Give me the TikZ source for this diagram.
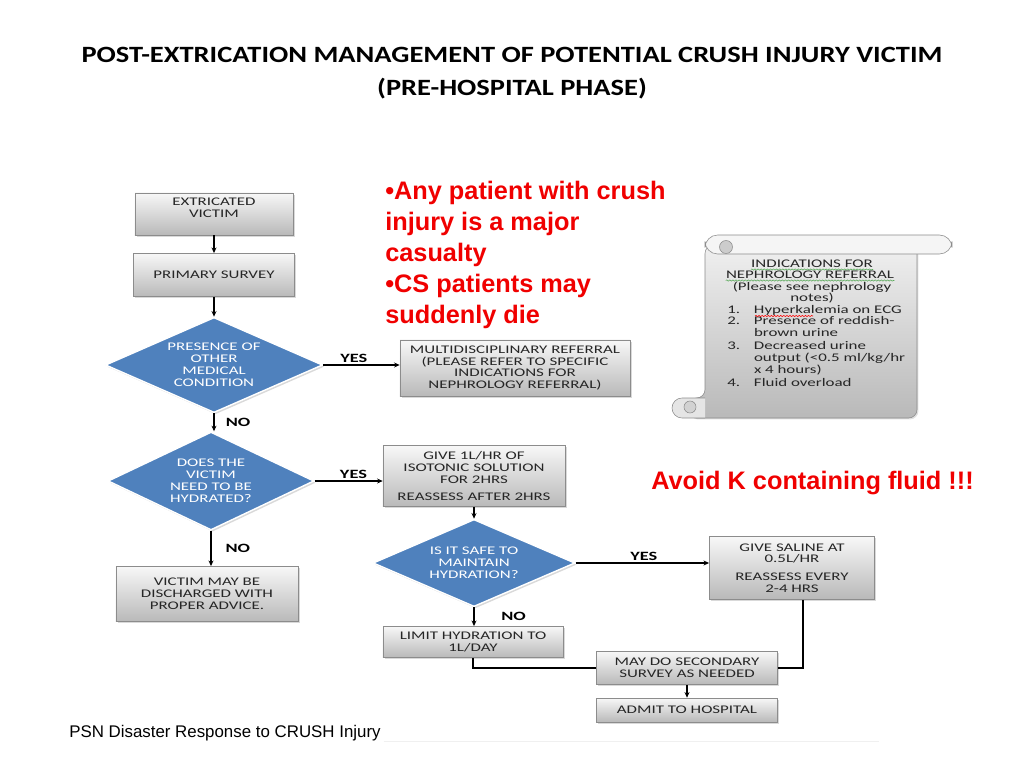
\documentclass[tikz,border=0pt]{standalone}
\usepackage{fontspec}
\setmainfont{Carlito}
\newfontfamily\boxfont{Carlito}[FakeStretch=1.45]
\newfontfamily\titlefont{Carlito}[FakeStretch=1.22]
\newfontfamily\arialfont{Liberation Sans}
\usepackage{xcolor}
\usepackage{tikz}
\usetikzlibrary{positioning,arrows.meta,shapes.geometric,calc,shadows,decorations.pathmorphing}

\definecolor{diamblue}{RGB}{79,129,189}
\definecolor{boxedge}{RGB}{140,140,140}
\definecolor{notered}{RGB}{240,0,0}
\definecolor{spellgreen}{RGB}{90,170,90}

\begin{document}
\begin{tikzpicture}[
  x=0.025cm, y=-0.025cm,
  box/.style={rectangle, draw=boxedge, top color=gray!6, bottom color=gray!55,
              align=center, text=black!85, inner sep=1pt,
              font=\boxfont\fontsize{8.3}{8.5}\selectfont,
              drop shadow={opacity=0.3, shadow xshift=1.2pt, shadow yshift=-1.2pt}},
  decision/.style={diamond, draw=white, line width=1pt, fill=diamblue, text=white,
              align=center, inner sep=0pt,
              font=\boxfont\fontsize{8.3}{8.5}\selectfont,
              drop shadow={opacity=0.3, shadow xshift=1.2pt, shadow yshift=-1.2pt}},
  arrow/.style={-{Stealth[length=4pt, width=3.5pt]}, line width=0.8pt},
  link/.style={line width=0.8pt},
  answer/.style={font=\boxfont\bfseries\fontsize{9}{10}\selectfont, inner sep=1pt},
  note/.style={font=\arialfont\bfseries\fontsize{18}{22}\selectfont, text=notered, align=left, inner sep=0pt},
  scrolltext/.style={font=\boxfont\fontsize{8.3}{8.2}\selectfont, text=black!85, inner sep=0pt},
  squiggle/.style={decorate, decoration={snake, amplitude=0.45pt, segment length=2.2pt}, line width=0.4pt}
]
\useasboundingbox (0,0) rectangle (1024,768);

% Title
\node[font=\titlefont\bfseries\fontsize{16.6}{23.5}\selectfont, align=center] (title) at (512,73)
  {POST-EXTRICATION MANAGEMENT OF POTENTIAL CRUSH INJURY VICTIM\\(PRE-HOSPITAL PHASE)};

% Left column
\node[box, minimum width=3.95cm, minimum height=1.05cm] (extricated) at (214,214) {EXTRICATED\\VICTIM\\[1pt]};
\node[box, minimum width=4.03cm, minimum height=1.08cm] (primary) at (214,275) {PRIMARY SURVEY};
\node[decision, aspect=2.28, minimum width=5.43cm, minimum height=2.38cm] (other) at (214,365)
  {PRESENCE OF\\OTHER\\MEDICAL\\CONDITION};
\node[decision, aspect=2.1, minimum width=5.15cm, minimum height=2.45cm] (hydrate) at (211,481)
  {DOES THE\\VICTIM\\NEED TO BE\\HYDRATED?};
\node[box, minimum width=4.55cm, minimum height=1.38cm] (discharge) at (207,594)
  {VICTIM MAY BE\\DISCHARGED WITH\\PROPER ADVICE.};

% Middle column
\node[box, minimum width=5.75cm, minimum height=1.4cm] (referral) at (515,368)
  {MULTIDISCIPLINARY REFERRAL\\(PLEASE REFER TO SPECIFIC\\INDICATIONS FOR\\NEPHROLOGY REFERRAL)};
\node[box, minimum width=4.55cm, minimum height=1.53cm] (isotonic) at (474,476)
  {GIVE 1L/HR OF\\ISOTONIC SOLUTION\\FOR 2HRS\\[4pt]REASSESS AFTER 2HRS};
\node[decision, aspect=2.32, minimum width=5.05cm, minimum height=2.18cm] (safe) at (474,563)
  {IS IT SAFE TO\\MAINTAIN\\HYDRATION?};
\node[box, minimum width=4.5cm, minimum height=0.78cm] (limit) at (473,642)
  {LIMIT HYDRATION TO\\1L/DAY};

% Right column
\node[box, minimum width=4.13cm, minimum height=1.58cm] (saline) at (792,568)
  {GIVE SALINE AT\\0.5L/HR\\[4pt]REASSESS EVERY\\2-4 HRS};
\node[box, minimum width=4.53cm, minimum height=0.83cm] (secondary) at (687,668)
  {MAY DO SECONDARY\\SURVEY AS NEEDED};
\node[box, minimum width=4.53cm, minimum height=0.6cm] (admit) at (687,710) {ADMIT TO HOSPITAL};

% Arrows
\draw[arrow] (extricated) -- (primary);
\draw[arrow] (primary) -- (other);
\draw[arrow] (other.east) -- (other.east -| referral.west) node[answer, above, pos=0.4] {YES};
\draw[arrow] (other.south) -- (other.south |- hydrate.north) node[answer, midway, right, xshift=7pt] {NO};
\draw[arrow] (hydrate.east) -- (hydrate.east -| isotonic.west) node[answer, above, pos=0.57] {YES};
\draw[arrow] (hydrate.south) -- (hydrate.south |- discharge.north) node[answer, midway, right, xshift=9pt] {NO};
\draw[arrow] (isotonic) -- (safe);
\draw[arrow] (safe.east) -- (safe.east -| saline.west) node[answer, above, pos=0.51] {YES};
\draw[arrow] (safe.south) -- (safe.south |- limit.north) node[answer, midway, right, xshift=18pt] {NO};
\draw[link] (limit.south) |- (secondary.west);
\draw[link] ([xshift=0.275cm]saline.south) |- (secondary.east);
\draw[arrow] (secondary) -- (admit);

% Red notes
\node[note, anchor=north west] (crush) at (385,181)
  {•Any patient with crush\\injury is a major\\casualty\\•CS patients may\\suddenly die};
\node[note, anchor=west] (potassium) at (651,483) {Avoid K containing fluid !!!};

% Scroll with nephrology indications
\draw[boxedge, top color=gray!12, bottom color=gray!55, rounded corners=6,
      drop shadow={opacity=0.25, shadow xshift=1pt, shadow yshift=-1pt}]
  (705,245) -- (917,245) -- (917,418) -- (688,418) -- (688,398) -- (705,398) -- cycle;
\draw[boxedge, fill=gray!8, rounded corners=9] (705,235) rectangle (952,254);
\draw[boxedge, fill=gray!40] (726,247) circle (6.5);
\draw[boxedge, fill=gray!20] (705,398) -- (682,398) arc[start angle=270, end angle=90, radius=10] -- (705,418);
\draw[boxedge, fill=gray!35] (690,407) circle (6);

\node[scrolltext] (ind) at (812,264) {INDICATIONS FOR};
\node[scrolltext] (neph) at (810,275) {NEPHROLOGY REFERRAL};
\node[scrolltext] (please) at (812,287) {(Please see nephrology};
\node[scrolltext] (notes) at (812,298) {notes)};
\node[scrolltext, anchor=north west] (items) at (727,305) {%
  \begin{tabular}{@{}p{19pt}@{}l@{}}
  1. & Hyperkalemia on ECG\\
  2. & Presence of reddish-\\
     & brown urine\\[1pt]
  3. & Decreased urine\\
     & output (<0.5 ml/kg/hr\\
     & x 4 hours)\\[1pt]
  4. & Fluid overload
  \end{tabular}};
\draw[squiggle, spellgreen] ([yshift=-1pt]ind.south west) -- ([yshift=-1pt]ind.south east);
\draw[squiggle, spellgreen] ([yshift=-1pt]neph.south west) -- ([yshift=-1pt]neph.south east);
\draw[squiggle, red] (755,316) -- (813,316);

% Footer
\node[font=\arialfont\fontsize{12}{14}\selectfont, anchor=west, inner sep=0pt] (footer) at (69,733)
  {PSN Disaster Response to CRUSH Injury};
\draw[gray!12, line width=0.6pt] ([xshift=2pt]footer.south east) -- ++(495,0);

\end{tikzpicture}
\end{document}
